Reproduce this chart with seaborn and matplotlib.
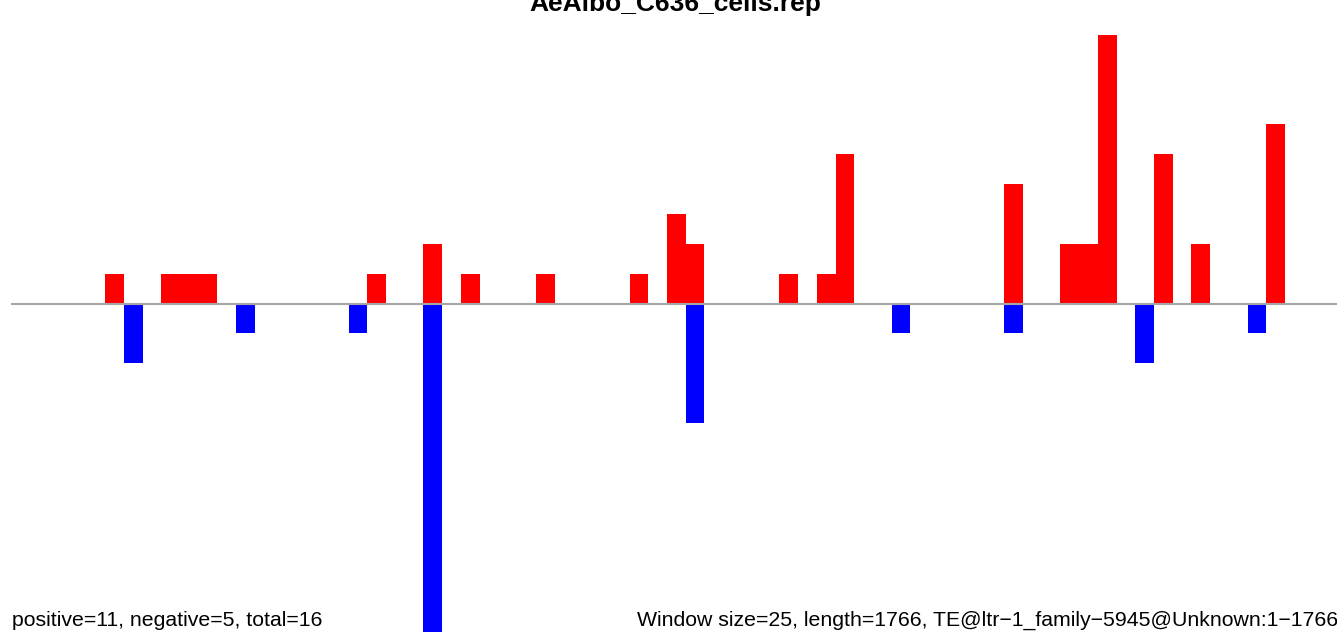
import numpy as np
import pandas as pd
import matplotlib
matplotlib.use("Agg")
import matplotlib.pyplot as plt
import seaborn as sns

# window counts (window index -> count)
window_size = 25
seq_length = 1766
pos_bins = [5, 8, 9, 10, 19, 22, 24, 28, 33, 35, 36, 41, 43, 44, 53, 56, 57, 58, 61, 63, 67]
pos_counts = [1, 1, 1, 1, 1, 2, 1, 1, 1, 3, 2, 1, 1, 5, 4, 2, 2, 9, 5, 2, 6]
neg_bins = [6, 12, 18, 22, 36, 47, 53, 60, 66]
neg_counts = [-2, -1, -1, -11, -4, -1, -1, -2, -1]

title = "AeAlbo_C636_cells.rep"
left_note = "positive=11, negative=5, total=16"
right_note = "Window size=25, length=1766, TE@ltr\u22121_family\u22125945@Unknown:1\u22121766"

df = pd.concat([
    pd.DataFrame({"pos": np.array(pos_bins) * window_size + window_size / 2,
                  "count": pos_counts, "strand": "plus"}),
    pd.DataFrame({"pos": np.array(neg_bins) * window_size + window_size / 2,
                  "count": neg_counts, "strand": "minus"}),
])

sns.set_style("white")
plt.rcParams["font.family"] = ["Liberation Sans", "DejaVu Sans"]

fig = plt.figure(figsize=(13.37, 6.39), dpi=100)
ax = fig.add_axes([0, 0, 1, 1])

sns.barplot(data=df, x="pos", y="count", hue="strand", orient="x",
            palette={"plus": "#FF0000", "minus": "#0000FF"},
            native_scale=True, dodge=False, width=1, linewidth=0,
            saturation=1, errorbar=None, legend=False, ax=ax)

ax.hlines(0, 0, 1800, color="#A6A6A6", linewidth=1.5, zorder=3)

ax.set_xlim(-15.2, 1769.3)
ax.set_ylim(-11.24, 10.17)
ax.set_axis_off()

fig.text(675 / 1337, 1 - 11.5 / 639, title, ha="center", va="baseline",
         fontsize=19, fontweight="bold", color="black")
fig.text(12 / 1337, 1 - 626 / 639, left_note, ha="left", va="baseline",
         fontsize=15.3, color="black")
fig.text(637 / 1337, 1 - 626 / 639, right_note, ha="left", va="baseline",
         fontsize=15.3, color="black")

fig.savefig("out.png", dpi=100)
